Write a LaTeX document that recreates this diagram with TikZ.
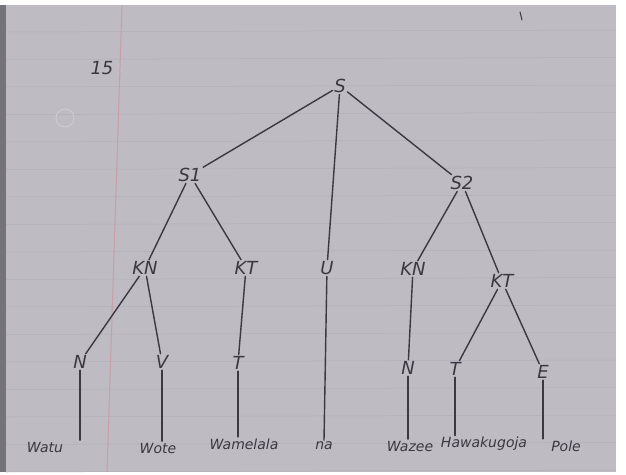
\documentclass[tikz,border=0pt]{standalone}
\usepackage{fontspec}
\setmainfont{DejaVu Sans}
\definecolor{paper}{RGB}{190,187,194}
\definecolor{ink}{RGB}{58,56,64}
\definecolor{rule}{RGB}{176,175,188}
\definecolor{margin}{RGB}{200,158,168}
\begin{document}
\begin{tikzpicture}[x=1pt,y=-1pt,
  lab/.style={inner sep=1.5pt,text=ink,font=\fontsize{18}{18}\selectfont\itshape},
  leaf/.style={inner sep=1.5pt,text=ink,font=\fontsize{14}{14}\selectfont\itshape},
  edge/.style={draw=ink,line width=1.4pt,line cap=round}]
\useasboundingbox (0,0) rectangle (626,474);
% paper
\fill[white] (0,0) rectangle (626,474);
\fill[paper] (0,5) rectangle (616,472);
\fill[ink!55!paper] (0,5) rectangle (6,472);
\foreach \k in {0,...,16}{
  \draw[rule,line width=0.5pt] (6,{32+27.5*\k}) -- (616,{30+27.5*\k});
}
\draw[margin,line width=1pt] (122,5) -- (107,472);
\draw[paper!75!white,line width=0.8pt] (65,118) circle (9);
\node[lab] (num) at (102,68) {15};
\coordinate (tm1) at (520,12);
\coordinate (tm2) at (522,20);
\draw[edge,line width=1pt] (tm1) -- (tm2);
% nodes
\node[lab] (S) at (340,86) {S};
\node[lab] (S1) at (190,175) {S1};
\node[lab] (S2) at (462,183) {S2};
\node[lab] (KN1) at (145,268) {KN};
\node[lab] (KT1) at (246,268) {KT};
\node[lab] (U) at (327,268) {U};
\node[lab] (KN2) at (413,269) {KN};
\node[lab] (KT2) at (502,281) {KT};
\node[lab] (N1) at (80,362) {N};
\node[lab] (V) at (162,362) {V};
\node[lab] (T1) at (238,363) {T};
\node[lab] (N2) at (408,368) {N};
\node[lab] (T2) at (455,369) {T};
\node[lab] (E) at (543,372) {E};
% leaves
\node[leaf] (w1) at (45,447) {Watu};
\node[leaf] (w2) at (158,448) {Wote};
\node[leaf] (w3) at (244,444) {Wamelala};
\node[leaf] (w4) at (324,446) {na};
\node[leaf] (w5) at (410,446) {Wazee};
\node[leaf] (w6) at (484,444) {Hawakugoja};
\node[leaf] (w7) at (566,446) {Pole};
% edges
\draw[edge] (S) -- (S1);
\draw[edge] (S) -- (U);
\draw[edge] (S) -- (S2);
\draw[edge] (S1) -- (KN1);
\draw[edge] (S1) -- (KT1);
\draw[edge] (KN1) -- (N1);
\draw[edge] (KN1) -- (V);
\draw[edge] (KT1) -- (T1);
\draw[edge] (S2) -- (KN2);
\draw[edge] (S2) -- (KT2);
\draw[edge] (KN2) -- (N2);
\draw[edge] (KT2) -- (T2);
\draw[edge] (KT2) -- (E);
\draw[edge] (N1) -- (N1 |- w1.north);
\draw[edge] (V) -- (V |- w2.north);
\draw[edge] (T1) -- (T1 |- w3.north);
\draw[edge] (U) -- (w4.north);
\draw[edge] (N2) -- (N2 |- w5.north);
\draw[edge] (T2) -- (T2 |- w6.north);
\draw[edge] (E) -- (E |- w7.north);
\end{tikzpicture}
\end{document}
